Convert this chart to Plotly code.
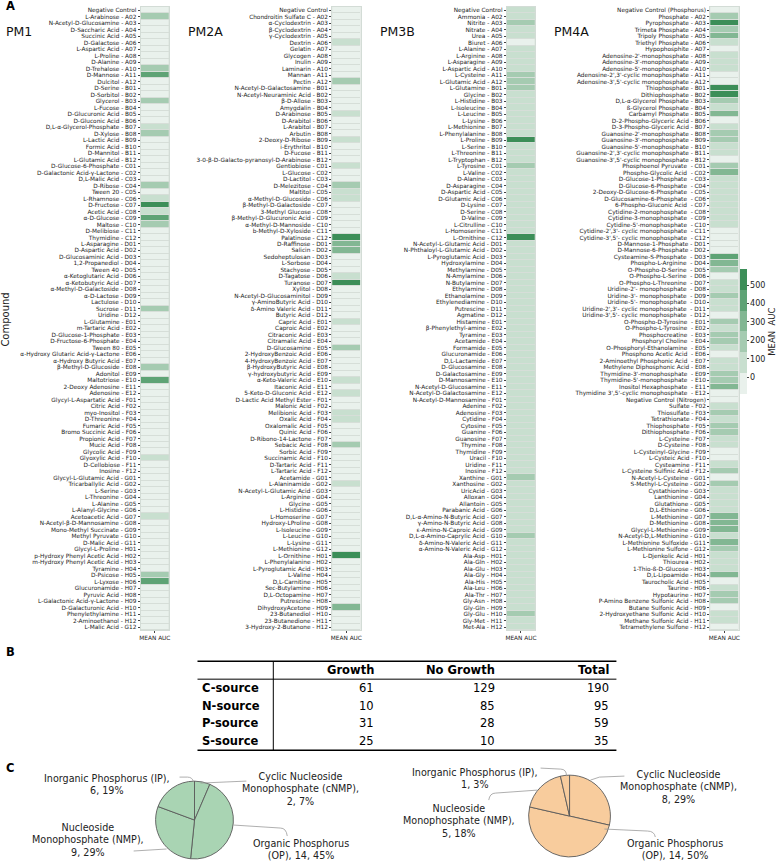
import plotly.graph_objects as go

W, H = 778, 861
FONT = "DejaVu Sans"

# ---------------- DATA ----------------
pm1_labels = [
    "Negative Control", "L-Arabinose - A02", "N-Acetyl-D-Glucosamine - A03", "D-Saccharic Acid - A04",
    "Succinic Acid - A05", "D-Galactose - A06", "L-Aspartic Acid - A07", "L-Proline - A08", "D-Alanine - A09",
    "D-Trehalose - A10", "D-Mannose - A11", "Dulcitol - A12", "D-Serine - B01", "D-Sorbitol - B02",
    "Glycerol - B03", "L-Fucose - B04", "D-Glucuronic Acid - B05", "D-Gluconic Acid - B06",
    "D,L-α-Glycerol-Phosphate - B07", "D-Xylose - B08", "L-Lactic Acid - B09", "Formic Acid - B10",
    "D-Mannitol - B11", "L-Glutamic Acid - B12", "D-Glucose-6-Phosphate - C01",
    "D-Galactonic Acid-γ-Lactone - C02", "D,L-Malic Acid - C03", "D-Ribose - C04", "Tween 20 - C05",
    "L-Rhamnose - C06", "D-Fructose - C07", "Acetic Acid - C08", "α-D-Glucose - C09", "Maltose - C10",
    "D-Melibiose - C11", "Thymidine - C12", "L-Asparagine - D01", "D-Aspartic Acid - D02",
    "D-Glucosaminic Acid - D03", "1,2-Propanediol - D04", "Tween 40 - D05", "α-Ketoglutaric Acid - D06",
    "α-Ketobutyric Acid - D07", "α-Methyl-D-Galactoside - D08", "α-D-Lactose - D09", "Lactulose - D10",
    "Sucrose - D11", "Uridine - D12", "L-Glutamine - E01", "m-Tartaric Acid - E02",
    "D-Glucose-1-Phosphate - E03", "D-Fructose-6-Phosphate - E04", "Tween 80 - E05",
    "α-Hydroxy Glutaric Acid-γ-Lactone - E06", "α-Hydroxy Butyric Acid - E07", "β-Methyl-D-Glucoside - E08",
    "Adonitol - E09", "Maltotriose - E10", "2-Deoxy Adenosine - E11", "Adenosine - E12",
    "Glycyl-L-Aspartatic Acid - F01", "Citric Acid - F02", "myo-Inositol - F03", "D-Threonine - F04",
    "Fumaric Acid - F05", "Bromo Succinic Acid - F06", "Propionic Acid - F07", "Mucic Acid - F08",
    "Glycolic Acid - F09", "Glyoxylic Acid - F10", "D-Cellobiose - F11", "Inosine - F12",
    "Glycyl-L-Glutamic Acid - G01", "Tricarballylic Acid - G02", "L-Serine - G03", "L-Threonine - G04",
    "L-Alanine - G05", "L-Alanyl-Glycine - G06", "Acetoacetic Acid - G07", "N-Acetyl-β-D-Mannosamine - G08",
    "Mono-Methyl Succinate - G09", "Methyl Pyruvate - G10", "D-Malic Acid - G11", "Glycyl-L-Proline - H01",
    "p-Hydroxy Phenyl Acetic Acid - H02", "m-Hydroxy Phenyl Acetic Acid - H03", "Tyramine - H04",
    "D-Psicose - H05", "L-Lyxose - H06", "Glucuronamide - H07", "Pyruvic Acid - H08",
    "L-Galactonic Acid-γ-Lactone - H09", "D-Galacturonic Acid - H10", "Phenylethylamine - H11",
    "2-Aminoethanol - H12", "L-Malic Acid - G12",
]
pm1_auc = [
    0, 190, 4, 0, 6, 3, 0, 5, 2, 200, 420, 0,
    3, 0, 200, 4, 0, 6, 90, 210, 0, 3, 5, 0,
    4, 0, 2, 230, 0, 80, 560, 110, 440, 190, 5, 0,
    3, 0, 4, 6, 0, 2, 5, 0, 3, 0, 200, 4,
    0, 5, 3, 0, 6, 0, 4, 190, 0, 430, 3, 5,
    0, 4, 2, 0, 5, 3, 0, 4, 6, 100, 0, 3,
    5, 0, 4, 2, 0, 3, 90, 0, 5, 4, 0, 3,
    0, 5, 2, 200, 440, 0, 4, 3, 0, 5, 2, 0,
]

pm2a_labels = [
    "Negative Control", "Chondroitin Sulfate C - A02", "α-Cyclodextrin - A03", "β-Cyclodextrin - A04",
    "γ-Cyclodextrin - A05", "Dextrin - A06", "Gelatin - A07", "Glycogen - A08", "Inulin - A09",
    "Laminarin - A10", "Mannan - A11", "Pectin - A12", "N-Acetyl-D-Galactosamine - B01",
    "N-Acetyl-Neuraminic Acid - B02", "β-D-Allose - B03", "Amygdalin - B04", "D-Arabinose - B05",
    "D-Arabitol - B06", "L-Arabitol - B07", "Arbutin - B08", "2-Deoxy-D-Ribose - B09", "i-Erythritol - B10",
    "D-Fucose - B11", "3-0-β-D-Galacto-pyranosyl-D-Arabinose - B12", "Gentiobiose - C01", "L-Glucose - C02",
    "D-Lactitol - C03", "D-Melezitose - C04", "Maltitol - C05", "α-Methyl-D-Glucoside - C06",
    "β-Methyl-D-Galactoside - C07", "3-Methyl Glucose - C08", "β-Methyl-D-Glucuronic Acid - C09",
    "α-Methyl-D-Mannoside - C10", "b-Methyl-D-Xyloside - C11", "Palatinose - C12", "D-Raffinose - D01",
    "Salicin - D02", "Sedoheptulosan - D03", "L-Sorbose - D04", "Stachyose - D05", "D-Tagatose - D06",
    "Turanose - D07", "Xylitol - D08", "N-Acetyl-D-Glucosaminitol - D09", "γ-AminoButyric Acid - D10",
    "δ-Amino Valeric Acid - D11", "Butyric Acid - D12", "Capric Acid - E01", "Caproic Acid - E02",
    "Citraconic Acid - E03", "Citramalic Acid - E04", "D-Glucosamine - E05", "2-HydroxyBenzoic Acid - E06",
    "4-HydroxyBenzoic Acid - E07", "β-HydroxyButyric Acid - E08", "γ-hydroxybutyric Acid - E09",
    "α-Keto-Valeric Acid - E10", "Itaconic Acid - E11", "5-Keto-D-Gluconic Acid - E12",
    "D-Lactic Acid Methyl Ester - F01", "Malonic Acid - F02", "Melibionic Acid - F03", "Oxalic Acid - F04",
    "Oxalomalic Acid - F05", "Quinic Acid - F06", "D-Ribono-14-Lactone - F07", "Sebacic Acid - F08",
    "Sorbic Acid - F09", "Succinamic Acid - F10", "D-Tartaric Acid - F11", "L-Tartaric Acid - F12",
    "Acetamide - G01", "L-Alaninamide - G02", "N-Acetyl-L-Glutamic Acid - G03", "L-Arginine - G04",
    "Glycine - G05", "L-Histidine - G06", "L-Homoserine - G07", "Hydroxy-LProline - G08",
    "L-Isoleucine - G09", "L-Leucine - G10", "L-Lysine - G11", "L-Methionine - G12", "L-Ornithine - H01",
    "L-Phenylalanine - H02", "L-Pyroglutamic Acid - H03", "L-Valine - H04", "D,L-Carnitine - H05",
    "Sec-Butylamine - H06", "D,L-Octopamine - H07", "Putrescine - H08", "DihydroxyAcetone - H09",
    "23-Butanediol - H10", "23-Butanedione - H11", "3-Hydroxy-2-Butanone - H12",
]
pm2a_auc = [
    0, 5, 0, 3, 0, 100, 0, 6, 0, 4, 0, 180,
    0, 0, 5, 0, 70, 0, 3, 0, 90, 0, 4, 0,
    110, 0, 5, 170, 40, 80, 0, 6, 0, 3, 0, 540,
    320, 260, 0, 5, 0, 80, 550, 0, 4, 0, 0, 6,
    100, 0, 3, 0, 220, 0, 5, 0, 4, 90, 0, 100,
    0, 5, 110, 90, 0, 3, 0, 150, 0, 4, 0, 6,
    0, 110, 0, 5, 0, 3, 0, 4, 0, 5, 0, 3,
    560, 0, 5, 0, 4, 0, 3, 0, 300, 0, 5, 0,
]

pm3b_labels = [
    "Negative Control", "Ammonia - A02", "Nitrite - A03", "Nitrate - A04", "Urea - A05", "Biuret - A06",
    "L-Alanine - A07", "L-Arginine - A08", "L-Asparagine - A09", "L-Aspartic Acid - A10",
    "L-Cysteine - A11", "L-Glutamic Acid - A12", "L-Glutamine - B01", "Glycine - B02", "L-Histidine - B03",
    "L-Isoleucine - B04", "L-Leucine - B05", "L-Lysine - B06", "L-Methionine - B07",
    "L-Phenylalanine - B08", "L-Proline - B09", "L-Serine - B10", "L-Threonine - B11",
    "L-Tryptophan - B12", "L-Tyrosine - C01", "L-Valine - C02", "D-Alanine - C03", "D-Asparagine - C04",
    "D-Aspartic Acid - C05", "D-Glutamic Acid - C06", "D-Lysine - C07", "D-Serine - C08", "D-Valine - C09",
    "L-Citrulline - C10", "L-Homoserine - C11", "L-Ornithine - C12", "N-Acetyl-L-Glutamic Acid - D01",
    "N-Phthaloyl-L-Glutamic Acid - D02", "L-Pyroglutamic Acid - D03", "Hydroxylamine - D04",
    "Methylamine - D05", "N-Amylamine - D06", "N-Butylamine - D07", "Ethylamine - D08",
    "Ethanolamine - D09", "Ethylenediamine - D10", "Putrescine - D11", "Agmatine - D12", "Histamine - E01",
    "β-Phenylethyl-amine - E02", "Tyramine - E03", "Acetamide - E04", "Formamide - E05",
    "Glucuronamide - E06", "D,L-Lactamide - E07", "D-Glucosamine - E08", "D-Galactosamine - E09",
    "D-Mannosamine - E10", "N-Acetyl-D-Glucosamine - E11", "N-Acetyl-D-Galactosamine - E12",
    "N-Acetyl-D-Mannosamine - F01", "Adenine - F02", "Adenosine - F03", "Cytidine - F04", "Cytosine - F05",
    "Guanine - F06", "Guanosine - F07", "Thymine - F08", "Thymidine - F09", "Uracil - F10", "Uridine - F11",
    "Inosine - F12", "Xanthine - G01", "Xanthosine - G02", "UricAcid - G03", "Alloxan - G04",
    "Allantoin - G05", "Parabanic Acid - G06", "D,L-α-Amino-N-Butyric Acid - G07",
    "γ-Amino-N-Butyric Acid - G08", "ε-Amino-N-Caproic Acid - G09", "D,L-α-Amino-Caprylic Acid - G10",
    "δ-Amino-N-Valeric Acid - G11", "α-Amino-N-Valeric Acid - G12", "Ala-Asp - H01", "Ala-Gln - H02",
    "Ala-Glu - H03", "Ala-Gly - H04", "Ala-His - H05", "Ala-Leu - H06", "Ala-Thr - H07", "Gly-Asn - H08",
    "Gly-Gln - H09", "Gly-Glu - H10", "Gly-Met - H11", "Met-Ala - H12",
]
pm3b_auc = [
    60, 90, 230, 110, 100, 20, 120, 80, 60, 30, 170, 200,
    160, 40, 110, 70, 60, 110, 60, 70, 560, 70, 30, 60,
    200, 100, 60, 70, 80, 70, 90, 30, 60, 70, 30, 570,
    60, 110, 100, 90, 70, 60, 60, 80, 70, 60, 70, 100,
    70, 60, 110, 60, 60, 70, 60, 110, 100, 60, 120, 70,
    100, 60, 110, 120, 60, 60, 70, 110, 70, 30, 60, 60,
    240, 110, 100, 60, 70, 60, 70, 110, 60, 230, 60, 70,
    110, 120, 100, 70, 60, 110, 60, 70, 110, 210, 60, 70,
]

pm4a_labels = [
    "Negative Control (Phosphorus)", "Phosphate - A02", "Pyrophosphate - A03", "Trimeta Phosphate - A04",
    "Tripoly Phosphate - A05", "Triethyl Phosphate - A06", "Hypophosphite - A07",
    "Adenosine-2'-monophosphate - A08", "Adenosine-3'-monophosphate - A09",
    "Adenosine-5'-monophosphate - A10", "Adenosine-2',3'-cyclic monophosphate - A11",
    "Adenosine-3',5'-cyclic monophosphate - A12", "Thiophosphate - B01", "Dithiophosphate - B02",
    "D,L-α-Glycerol Phosphate - B03", "ß-Glycerol Phosphate - B04", "Carbamyl Phosphate - B05",
    "D-2-Phospho-Glyceric Acid - B06", "D-3-Phospho-Glyceric Acid - B07",
    "Guanosine-2'-monophosphate - B08", "Guanosine-3'-monophosphate - B09",
    "Guanosine-5'-monophosphate - B10", "Guanosine-2',3'-cyclic monophosphate - B11",
    "Guanosine-3',5'-cyclic monophosphate - B12", "Phosphoenol Pyruvate  - C01",
    "Phospho-Glycolic Acid  - C02", "D-Glucose-1-Phosphate  - C03", "D-Glucose-6-Phosphate  - C04",
    "2-Deoxy-D-Glucose-6-Phosphate  - C05", "D-Glucosamine-6-Phosphate  - C06",
    "6-Phospho-Gluconic Acid  - C07", "Cytidine-2-monophosphate  - C08", "Cytidine-3-monophosphate  - C09",
    "Cytidine-5'-monophosphate  - C10", "Cytidine-2',3'- cyclic monophosphate  - C11",
    "Cytidine-3',5'- cyclic monophosphate  - C12", "D-Mannose-1-Phosphate - D01",
    "D-Mannose-6-Phosphate - D02", "Cysteamine-S-Phosphate  - D03", "Phospho-L-Arginine  - D04",
    "O-Phospho-D-Serine  - D05", "O-Phospho-L-Serine  - D06", "O-Phospho-L-Threonine  - D07",
    "Uridine-2'- monophosphate  - D08", "Uridine-3'- monophosphate  - D09",
    "Uridine-5'- monophosphate  - D10", "Uridine-2',3'- cyclic monophosphate  - D11",
    "Uridine-3',5'- cyclic monophosphate  - D12", "O-Phospho-D-Tyrosine  - E01",
    "O-Phospho-L-Tyrosine  - E02", "Phosphocreatine  - E03", "Phosphoryl Choline  - E04",
    "O-Phosphoryl-Ethanolamine  - E05", "Phosphono Acetic Acid  - E06",
    "2-Aminoethyl Phosphonic Acid  - E07", "Methylene Diphosphonic Acid - E08",
    "Thymidine-3'-monophosphate  - E09", "Thymidine-5'-monophosphate  - E10",
    "Inositol Hexaphosphate  - E11", "Thymidine 3',5'-cyclic monophosphate  - E12",
    "Negative Control (Nitrogen)", "Sulfate - F02", "Thiosulfate - F03", "Tetrathionate - F04",
    "Thiophosphate - F05", "Dithiophosphate - F06", "L-Cysteine - F07", "D-Cysteine - F08",
    "L-Cysteinyl-Glycine - F09", "L-Cysteic Acid - F10", "Cysteamine - F11",
    "L-Cysteine Sulfinic Acid - F12", "N-Acetyl-L-Cysteine - G01", "S-Methyl-L-Cysteine - G02",
    "Cystathionine - G03", "Lanthionine - G04", "Glutathione - G05", "D,L-Ethionine - G06",
    "L-Methionine - G07", "D-Methionine - G08", "Glycyl-L-Methionine - G09",
    "N-Acetyl-D,L-Methionine - G10", "L-Methionine Sulfoxide - G11", "L-Methionine Sulfone - G12",
    "L-Djenkolic Acid - H01", "Thiourea - H02", "1-Thio-ß-D-Glucose - H03", "D,L-Lipoamide - H04",
    "Taurocholic Acid - H05", "Taurine - H06", "Hypotaurine - H07", "P-Amino Benzene Sulfonic Acid - H08",
    "Butane Sulfonic Acid - H09", "2-Hydroxyethane Sulfonic Acid - H10", "Methane Sulfonic Acid - H11",
    "Tetramethylene Sulfone - H12",
]
pm4a_auc = [
    15, 200, 560, 210, 260, 90, 10, 70, 90, 40, 15, 10,
    570, 575, 210, 110, 300, 20, 80, 200, 190, 110, 80, 20,
    200, 300, 110, 100, 90, 110, 100, 90, 110, 100, 15, 15,
    10, 15, 400, 290, 220, 15, 80, 90, 210, 80, 100, 15,
    220, 110, 200, 180, 100, 15, 90, 100, 220, 180, 320, 15,
    10, 90, 220, 110, 210, 170, 100, 100, 15, 20, 90, 210,
    15, 210, 100, 110, 100, 110, 260, 260, 300, 110, 310, 220,
    110, 100, 110, 320, 15, 100, 200, 150, 20, 110, 90, 15,
]

plate_names = ["PM1", "PM2A", "PM3B", "PM4A"]
colorbar_ticks = [0, 100, 200, 300, 400, 500]
auc_min, auc_max = -92, 587

table_rows = ["C-source", "N-source", "P-source", "S-source"]
table_cols = ["Growth", "No Growth", "Total"]
growth = [61, 10, 31, 25]
no_growth = [129, 85, 28, 10]
total = [190, 95, 59, 35]

p_categories = ["Cyclic Nucleoside Monophosphate (cNMP)", "Organic Phosphorus (OP)",
                "Nucleoside Monophosphate (NMP)", "Inorganic Phosphorus (IP)"]
p_growth_counts = [2, 14, 9, 6]
p_growth_pct = [7, 45, 29, 19]
p_nogrowth_counts = [8, 14, 5, 1]
p_nogrowth_pct = [29, 50, 18, 3]

# ---------------- STYLE / LAYOUT HELPERS ----------------
def X(px):
    return px / W


def Y(py):
    return 1 - py / H


band_colors = ["#e9f1ec", "#c8dfcf", "#a5cbb1", "#82b793", "#5ea375", "#3c8e58"]
nb = len(band_colors)
colorscale = []
for i, c in enumerate(band_colors):
    colorscale.append([i / nb, c])
    colorscale.append([(i + 1) / nb, c])

fig = go.Figure()

plates = [
    (pm1_labels, pm1_auc, 140, 3),
    (pm2a_labels, pm2a_auc, 332, 185),
    (pm3b_labels, pm3b_auc, 507, 378),
    (pm4a_labels, pm4a_auc, 711, 552),
]
cell_w = 28.5
row_top, row_bot = 7, 631
annotations = []
shapes = []
for k, (labels, vals, x0, title_x) in enumerate(plates):
    n = k + 1
    xa = "x" if n == 1 else f"x{n}"
    ya = "y" if n == 1 else f"y{n}"
    fig.add_trace(go.Heatmap(
        z=[[v] for v in vals], x=[0], y=list(range(len(vals))),
        coloraxis="coloraxis", xgap=0, ygap=1, xaxis=xa, yaxis=ya,
        hovertemplate="%{customdata}<br>MEAN AUC: %{z}<extra></extra>",
        customdata=[[l] for l in labels],
    ))
    xkey = "xaxis" if n == 1 else f"xaxis{n}"
    ykey = "yaxis" if n == 1 else f"yaxis{n}"
    fig.layout[xkey] = dict(
        domain=[X(x0), X(x0 + cell_w)], anchor=ya, range=[-0.5, 0.5],
        tickmode="array", tickvals=[0], ticktext=["MEAN AUC"],
        tickfont=dict(size=5.8, color="#222", family=FONT), ticks="outside", ticklen=2,
        tickwidth=0.6, tickcolor="#444", showgrid=False, zeroline=False,
        showline=True, mirror=True, linecolor="#d3dcd6", linewidth=1,
    )
    fig.layout[ykey] = dict(
        domain=[Y(row_bot), Y(row_top)], anchor=xa, range=[len(vals) - 0.5, -0.5],
        tickmode="array", tickvals=list(range(len(labels))), ticktext=labels,
        tickfont=dict(size=5.8, color="#222", family=FONT), ticks="outside", ticklen=2,
        tickwidth=0.6, tickcolor="#444", showgrid=False, zeroline=False,
        showline=True, mirror=True, linecolor="#d3dcd6", linewidth=1,
    )
    annotations.append(dict(text=plate_names[k], x=X(title_x), y=Y(32), xref="paper", yref="paper",
                            xanchor="left", yanchor="middle", showarrow=False,
                            font=dict(size=12.5, family=FONT, color="#111")))

# panel letters and axis title
for letter, py in [("A", 6), ("B", 653), ("C", 769)]:
    annotations.append(dict(text=f"<b>{letter}</b>", x=X(3), y=Y(py), xref="paper", yref="paper",
                            xanchor="left", yanchor="middle", showarrow=False,
                            font=dict(size=11.5, family=FONT, color="#000")))
annotations.append(dict(text="Compound", x=X(5), y=Y(320), xref="paper", yref="paper",
                        xanchor="center", yanchor="middle", showarrow=False, textangle=-90,
                        font=dict(size=10, family=FONT, color="#222")))

# ---------------- TABLE (panel B) ----------------
tab_left, tab_right, tab_vline = 197, 617, 273
y_top, y_head_line, y_bottom = 662, 680, 751
y_head = 671
row_ys = [689, 706.5, 724, 741.5]
col_right = [376, 497, 612]
shapes.append(dict(type="line", xref="paper", yref="paper", x0=X(tab_left), x1=X(tab_right),
                   y0=Y(y_top), y1=Y(y_top), line=dict(color="#000", width=1.5)))
shapes.append(dict(type="line", xref="paper", yref="paper", x0=X(tab_left), x1=X(tab_right),
                   y0=Y(y_head_line), y1=Y(y_head_line), line=dict(color="#555", width=1.5)))
shapes.append(dict(type="line", xref="paper", yref="paper", x0=X(tab_left), x1=X(tab_right),
                   y0=Y(y_bottom), y1=Y(y_bottom), line=dict(color="#000", width=1.5)))
shapes.append(dict(type="line", xref="paper", yref="paper", x0=X(tab_vline), x1=X(tab_vline),
                   y0=Y(y_top), y1=Y(y_bottom), line=dict(color="#000", width=1)))
for c, name in enumerate(table_cols):
    annotations.append(dict(text=f"<b>{name}</b>", x=X(col_right[c]), y=Y(y_head), xref="paper",
                            yref="paper", xanchor="right", yanchor="middle", showarrow=False,
                            font=dict(size=11.5, family=FONT, color="#000")))
for r, name in enumerate(table_rows):
    annotations.append(dict(text=f"<b>{name}</b>", x=X(200), y=Y(row_ys[r]), xref="paper",
                            yref="paper", xanchor="left", yanchor="middle", showarrow=False,
                            font=dict(size=11.5, family=FONT, color="#000")))
    for c, col in enumerate([growth, no_growth, total]):
        annotations.append(dict(text=str(col[r]), x=X(col_right[c]), y=Y(row_ys[r]), xref="paper",
                                yref="paper", xanchor="right", yanchor="middle", showarrow=False,
                                font=dict(size=11.5, family=FONT, color="#000")))

# ---------------- PIES (panel C) ----------------
label_tpl = {
    "Cyclic Nucleoside Monophosphate (cNMP)": "Cyclic Nucleoside<br>Monophosphate (cNMP),<br>{n}, {p}%",
    "Organic Phosphorus (OP)": "Organic Phosphorus<br>(OP), {n}, {p}%",
    "Nucleoside Monophosphate (NMP)": "Nucleoside<br>Monophosphate (NMP),<br>{n}, {p}%",
    "Inorganic Phosphorus (IP)": "Inorganic Phosphorus (IP),<br>{n}, {p}%",
}
pies = [
    dict(counts=p_growth_counts, pct=p_growth_pct, color="#a9d4b3", box=(155, 233, 782, 860),
         pos=[(300, 790), (301, 850), (87, 841), (106, 785)],
         leaders=[
             [("M", 200, 784), ("L", 246, 782)],
             [("M", 233, 826), ("L", 280, 829), ("Q", 286, 829, 287, 837)],
             [("M", 166, 850), ("L", 133, 852)],
             [("M", 179, 778), ("L", 187, 778), ("Q", 192, 778, 193, 783)],
         ]),
    dict(counts=p_nogrowth_counts, pct=p_nogrowth_pct, color="#f8cc9d", box=(529, 611, 776, 858),
         pos=[(679, 788), (676, 850), (459, 822), (475, 779)],
         leaders=[
             [("M", 591, 781), ("L", 600, 778), ("L", 625, 777)],
             [("M", 605, 830), ("L", 648, 832), ("Q", 655, 832, 656, 838)],
             [("M", 538, 791), ("L", 496, 794), ("Q", 490, 794, 489, 801)],
             [("M", 541, 769), ("L", 561, 770), ("Q", 567, 770, 567, 777)],
         ]),
]
for p in pies:
    bx0, bx1, by0, by1 = p["box"]
    fig.add_trace(go.Pie(
        labels=p_categories, values=p["counts"], sort=False, direction="clockwise", rotation=0,
        textinfo="none", hole=0, showlegend=False,
        marker=dict(colors=[p["color"]] * len(p_categories), line=dict(color="#5a5a5a", width=0.9)),
        domain=dict(x=[X(bx0), X(bx1)], y=[Y(by1), Y(by0)]),
    ))
    for i, cat in enumerate(p_categories):
        txt = label_tpl[cat].format(n=p["counts"][i], p=p["pct"][i])
        px_, py_ = p["pos"][i]
        annotations.append(dict(text=txt, x=X(px_), y=Y(py_), xref="paper", yref="paper",
                                xanchor="center", yanchor="middle", align="center", showarrow=False,
                                font=dict(size=9.6, family=FONT, color="#222")))
        path = ""
        for cmd in p["leaders"][i]:
            if cmd[0] in ("M", "L"):
                path += f"{cmd[0]} {X(cmd[1])} {Y(cmd[2])} "
            else:
                path += f"Q {X(cmd[1])} {Y(cmd[2])} {X(cmd[3])} {Y(cmd[4])} "
        shapes.append(dict(type="path", xref="paper", yref="paper", path=path.strip(),
                           line=dict(color="#9a9a9a", width=0.8)))

fig.update_layout(
    width=W, height=H, margin=dict(l=0, r=0, t=0, b=0, pad=0),
    paper_bgcolor="white", plot_bgcolor="#d6ded8",
    font=dict(family=FONT, color="#222"),
    showlegend=False,
    coloraxis=dict(
        colorscale=colorscale, cmin=auc_min, cmax=auc_max,
        colorbar=dict(
            x=X(741), xanchor="left", y=Y(332), yanchor="middle",
            len=125, lenmode="pixels", thickness=7, thicknessmode="pixels",
            tickmode="array", tickvals=colorbar_ticks, ticktext=[str(t) for t in colorbar_ticks],
            ticks="outside", ticklen=2, tickwidth=0.6, tickcolor="#444",
            tickfont=dict(size=8, family=FONT, color="#222"),
            title=dict(text="MEAN  AUC", side="right", font=dict(size=8.5, family=FONT, color="#222")),
            outlinewidth=0, xpad=0, ypad=0,
        ),
    ),
    annotations=annotations,
    shapes=shapes,
)

fig.write_html("out.html", config={"displayModeBar": False},
               post_script="document.body.style.margin='0';")
